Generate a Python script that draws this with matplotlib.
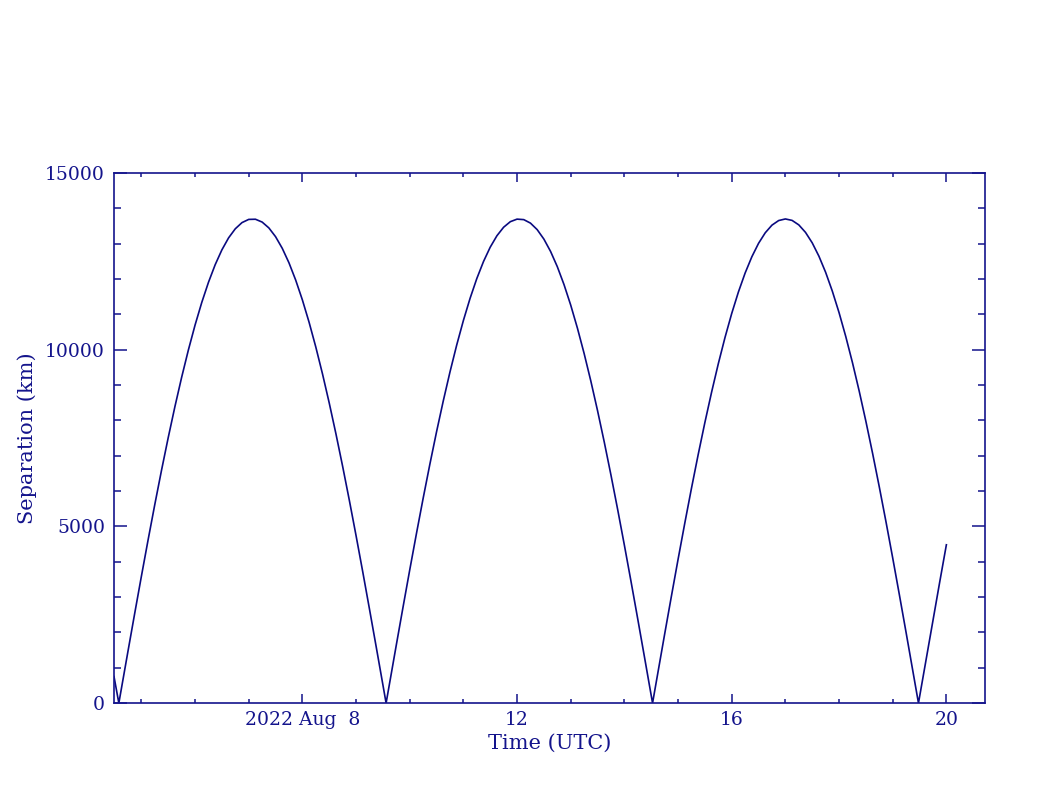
import matplotlib
matplotlib.use('Agg')
from matplotlib import pyplot as plt
from matplotlib.ticker import MultipleLocator, FixedLocator

# time in days of August 2022 (UTC), separation in km
days = [4.49, 4.58, 4.75, 4.875, 5.00, 5.125, 5.25, 5.375, 5.50, 5.625,
        5.75, 5.875, 6.00, 6.125, 6.25, 6.375, 6.50, 6.625, 6.75, 6.875,
        7.00, 7.125, 7.25, 7.375, 7.50, 7.625, 7.75, 7.875, 8.00, 8.125,
        8.25, 8.375, 8.50, 8.625, 8.75, 8.875, 9.00, 9.125, 9.25, 9.375,
        9.50, 9.56,
        9.75, 9.875, 10.00, 10.125, 10.25, 10.375, 10.50, 10.625, 10.75, 10.875,
        11.00, 11.125, 11.25, 11.375, 11.50, 11.625, 11.75, 11.875, 12.00, 12.125,
        12.25, 12.375, 12.50, 12.625, 12.75, 12.875, 13.00, 13.125, 13.25, 13.375,
        13.50, 13.625, 13.75, 13.875, 14.00, 14.125, 14.25, 14.375, 14.50, 14.525,
        14.75, 14.875, 15.00, 15.125, 15.25, 15.375, 15.50, 15.625, 15.75, 15.875,
        16.00, 16.125, 16.25, 16.375, 16.50, 16.625, 16.75, 16.875, 17.00, 17.125,
        17.25, 17.375, 17.50, 17.625, 17.75, 17.875, 18.00, 18.125, 18.25, 18.375,
        18.50, 18.625, 18.75, 18.875, 19.00, 19.125, 19.25, 19.48,
        19.75, 19.875, 20.00]
sep_km = [750, 0, 1466, 2534, 3587, 4618, 5620, 6587, 7512, 8391,
          9218, 9988, 10696, 11337, 11907, 12405, 12825, 13165, 13422, 13597,
          13687, 13692, 13612, 13447, 13199, 12869, 12459, 11971, 11409, 10776,
          10076, 9314, 8494, 7621, 6700, 5738, 4740, 3713, 2662, 1596,
          519, 0,
          1643, 2712, 3765, 4794, 5793, 6756, 7677, 8549, 9368, 10129,
          10826, 11455, 12013, 12496, 12901, 13225, 13466, 13623, 13695, 13681,
          13582, 13398, 13130, 12780, 12350, 11843, 11262, 10610, 9892, 9112,
          8275, 7387, 6452, 5477, 4468, 3431, 2372, 1298, 216, 0,
          1948, 3015, 4064, 5087, 6078, 7031, 7940, 8798, 9602, 10346,
          11025, 11634, 12170, 12629, 13010, 13309, 13525, 13655, 13700, 13659,
          13532, 13320, 13024, 12646, 12190, 11656, 11050, 10374, 9634, 8832,
          7975, 7068, 6117, 5128, 4106, 3058, 1991, 0,
          2336, 3419, 4480]

major_days = [8, 12, 16, 20]
major_labels = ['2022 Aug  8', '12', '16', '20']

blue = '#14148c'
plt.rcParams['font.family'] = ['DejaVu Serif']

fig = plt.figure(figsize=(10.46, 7.90), dpi=100)
ax = fig.add_axes([0.109, 0.110, 0.8327, 0.671])

ax.plot(days, sep_km, color='#0a0a80', lw=1.2)

ax.set_xlim(4.49, 20.72)
ax.set_ylim(0, 15000)

ax.xaxis.set_major_locator(FixedLocator(major_days))
ax.set_xticklabels(major_labels)
ax.xaxis.set_minor_locator(MultipleLocator(1))
ax.yaxis.set_major_locator(MultipleLocator(5000))
ax.yaxis.set_minor_locator(MultipleLocator(1000))

ax.tick_params(axis='both', which='both', direction='in', top=True, right=True,
               colors=blue, labelcolor=blue, width=1.1, labelsize=13.5)
ax.tick_params(axis='x', which='major', length=6.5, pad=5.5)
ax.tick_params(axis='x', which='minor', length=3)
ax.tick_params(axis='y', which='major', length=9.5, pad=6.5)
ax.tick_params(axis='y', which='minor', length=5)

for s in ax.spines.values():
    s.set_color(blue)
    s.set_linewidth(1.2)

ax.set_xlabel('Time (UTC)', color=blue, fontsize=15)
ax.set_ylabel('Separation (km)', color=blue, fontsize=15)
ax.xaxis.set_label_coords(0.5, -0.058)
ax.yaxis.set_label_coords(-0.088, 0.5)

plt.savefig('out.png', dpi=100)
